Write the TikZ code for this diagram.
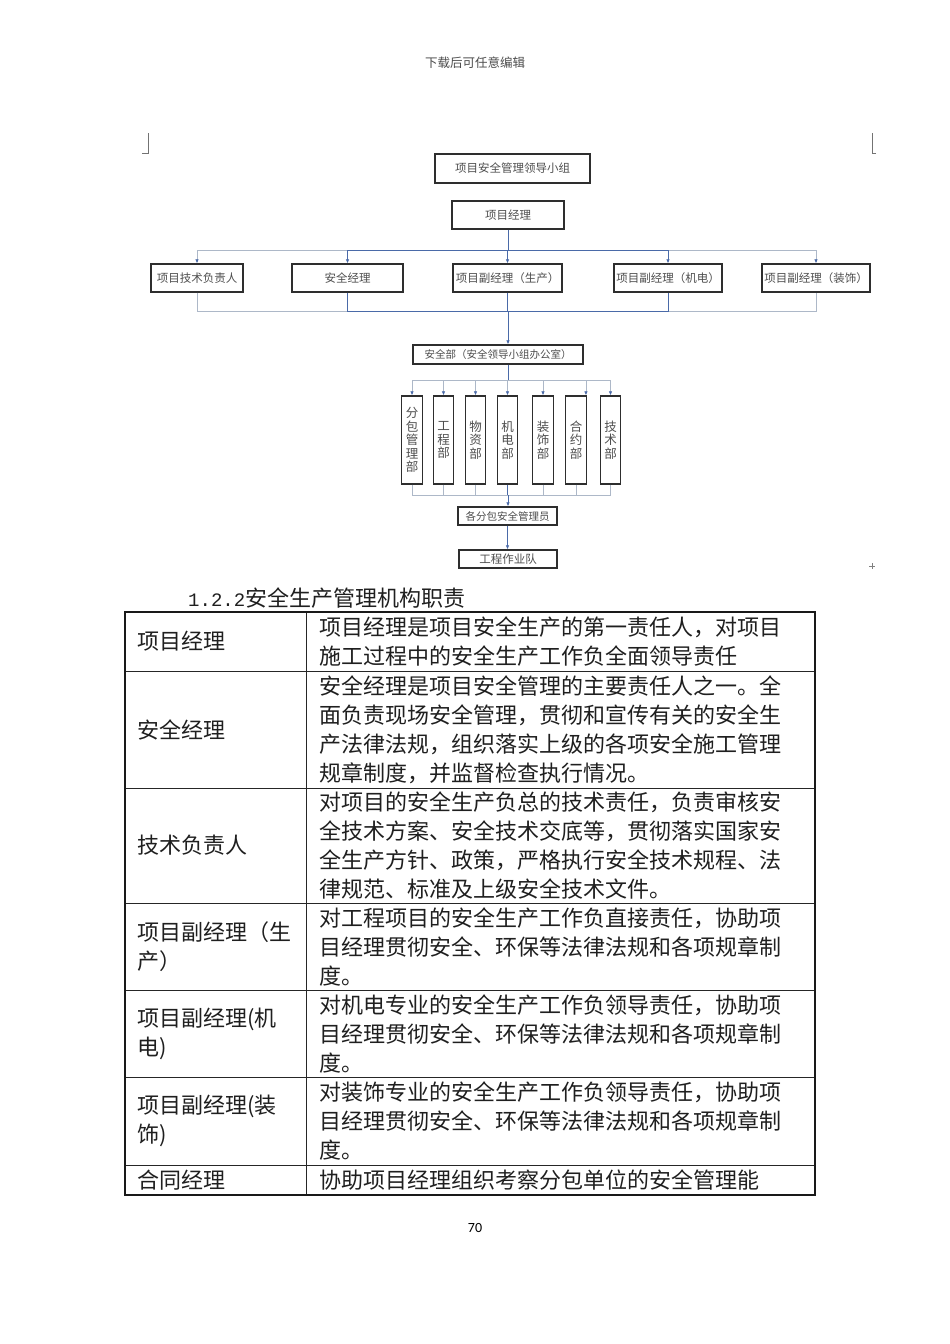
\documentclass[tikz,border=0pt]{standalone}
\usepackage{fontspec}
\setmainfont{Liberation Serif}
\newfontfamily\cjk{Noto Sans CJK SC}
\newfontfamily\monodigits{Liberation Mono}
\newfontfamily\pagefont{Carlito}
\usetikzlibrary{positioning}
\usetikzlibrary{arrows.meta}
\definecolor{linkblue}{HTML}{4A6AA8}
\definecolor{lightline}{HTML}{ADB8C8}
\definecolor{boxline}{HTML}{2E2E2E}
\definecolor{chartgray}{HTML}{4E4E4E}

\begin{document}
\begin{tikzpicture}[x=1pt, y=-1pt,
    >={Latex[length=4pt,width=3.6pt,color=linkblue]},
    orgbox/.style={draw=boxline, line width=1.4pt, fill=white, inner sep=0pt, text=chartgray, font=\cjk\fontsize{11.5}{13}\selectfont},
    deptbox/.style={orgbox, minimum width=20.5, minimum height=88, align=center, font=\cjk\fontsize{12.5}{13.5}\selectfont},
    blueline/.style={draw=linkblue, line width=0.9pt},
    grayline/.style={draw=lightline, line width=0.9pt},
    cell/.style={anchor=west, inner sep=0pt, align=left, text=black!88, font=\cjk\fontsize{22}{29}\selectfont},
    rule/.style={draw=black!85, line width=0.8pt},
    frame/.style={draw=black!90, line width=1.8pt}]
    \fill[white] (0,0) rectangle (950,1344);
    \useasboundingbox (0,0) rectangle (950,1344);

    \node[font=\cjk\fontsize{12.5}{14}\selectfont, text=black!70] (head) at (475,63) {下载后可任意编辑};
    \draw[black!55, line width=0.7pt] (142,153) -- (148,153) -- (148,133);
    \draw[black!55, line width=0.7pt] (876,153) -- (872,153) -- (872,133);
    \draw[black!50, line width=0.8pt] (869,566) -- (875,566) (872,563) -- (872,569);

    \node[orgbox, minimum width=155, minimum height=29] (group) at (512.5,168.5) {项目安全管理领导小组};
    \node[orgbox, minimum width=112, minimum height=28] (pm) at (508,215) {项目经理};
    \foreach \name/\x/\w/\txt in {tech/197/92/项目技术负责人, safe/347.5/111/安全经理, prod/507.5/109/项目副经理（生产）, mep/668/108/项目副经理（机电）, deco/816/108/项目副经理（装饰）}
        \node[orgbox, minimum width=\w, minimum height=28] (\name) at (\x,278) {\txt};
    \node[orgbox, minimum width=170, minimum height=19, font=\cjk\fontsize{10.5}{12}\selectfont] (dept) at (498,354.5) {安全部（安全领导小组办公室）};
    \foreach \name/\x/\txt in {sub/412/{分\\包\\管\\理\\部}, eng/443.5/{工\\程\\部}, mat/475.5/{物\\资\\部}, mep2/507.5/{机\\电\\部}, deco2/543/{装\\饰\\部}, cont/576/{合\\约\\部}, tec2/610.5/{技\\术\\部}}
        \node[deptbox] (\name) at (\x,440) {\txt};
    \node[orgbox, minimum width=99, minimum height=18, font=\cjk\fontsize{10.5}{12}\selectfont] (mgr) at (507.5,516) {各分包安全管理员};
    \node[orgbox, minimum width=98, minimum height=18] (team) at (508,559) {工程作业队};

    \coordinate (topbus) at (508,250);
    \coordinate (lowbus) at (508,311);
    \coordinate (depbus) at (508,380);
    \coordinate (botbus) at (508,495);
    \coordinate (contin) at ([xshift=-1pt]cont.north east);

    \draw[blueline] (pm.south) -- (topbus);
    \draw[grayline] (tech.north |- topbus) -- (deco.north |- topbus);
    \draw[grayline] (tech.south) -- (tech.south |- lowbus) -- (deco.south |- lowbus) -- (deco.south);
    \draw[blueline] (safe.north |- topbus) -- (mep.north |- topbus);
    \draw[blueline] (safe.south) -- (safe.south |- lowbus) -- (mep.south |- lowbus) -- (mep.south);
    \foreach \name in {tech,deco}
        \draw[grayline,->] (\name.north |- topbus) -- (\name.north);
    \foreach \name in {safe,prod,mep}
        \draw[blueline,->] (\name.north |- topbus) -- (\name.north);
    \draw[blueline] (prod.south) -- (prod.south |- lowbus);
    \draw[blueline,->] (lowbus) -- (lowbus |- dept.north);

    \draw[blueline] (dept.south -| depbus) -- (depbus);
    \draw[grayline] (sub.north |- depbus) -- (tec2.north |- depbus);
    \foreach \name in {sub,eng,mat,mep2,deco2,tec2}
        \draw[grayline,->] (\name.north |- depbus) -- (\name.north);
    \draw[grayline,->] (contin |- depbus) -- (contin);
    \foreach \name in {sub,eng,mat,deco2,cont,tec2}
        \draw[grayline] (\name.south) -- (\name.south |- botbus);
    \draw[grayline] (sub.south |- botbus) -- (tec2.south |- botbus);
    \draw[blueline] (mep2.south) -- (mep2.south |- botbus);
    \draw[blueline,->] (botbus) -- (botbus |- mgr.north);
    \draw[blueline,->] (mgr.south) -- (mgr.south |- team.north);

    \node[anchor=west, inner sep=0pt, text=black!88, font=\cjk\fontsize{22}{26}\selectfont] (title) at (188,598) {{\monodigits\fontsize{19}{26}\selectfont 1.2.2}安全生产管理机构职责};
    \foreach \y in {671,788,903,990,1077,1165}
        \draw[rule] (125,\y) -- (815,\y);
    \draw[rule] (306,612) -- (306,1195);
    \draw[frame] (125,612) rectangle (815,1195);

    \node[cell] (pmrole) at (137,641.5) {项目经理};
    \node[cell] (pmduty) at (319,641.5) {项目经理是项目安全生产的第一责任人，对项目\\施工过程中的安全生产工作负全面领导责任};
    \node[cell] (safrole) at (137,729.5) {安全经理};
    \node[cell] (safduty) at (319,729.5) {安全经理是项目安全管理的主要责任人之一。全\\面负责现场安全管理，贯彻和宣传有关的安全生\\产法律法规，组织落实上级的各项安全施工管理\\规章制度，并监督检查执行情况。};
    \node[cell] (tecrole) at (137,845.5) {技术负责人};
    \node[cell] (tecduty) at (319,845.5) {对项目的安全生产负总的技术责任，负责审核安\\全技术方案、安全技术交底等，贯彻落实国家安\\全生产方针、政策，严格执行安全技术规程、法\\律规范、标准及上级安全技术文件。};
    \node[cell] (prodrole) at (137,947) {项目副经理（生\\产）};
    \node[cell] (prodduty) at (319,947) {对工程项目的安全生产工作负直接责任，协助项\\目经理贯彻安全、环保等法律法规和各项规章制\\度。};
    \node[cell] (meprole) at (137,1034) {项目副经理(机\\电)};
    \node[cell] (mepduty) at (319,1034) {对机电专业的安全生产工作负领导责任，协助项\\目经理贯彻安全、环保等法律法规和各项规章制\\度。};
    \node[cell] (decorole) at (137,1121) {项目副经理(装\\饰)};
    \node[cell] (decoduty) at (319,1121) {对装饰专业的安全生产工作负领导责任，协助项\\目经理贯彻安全、环保等法律法规和各项规章制\\度。};
    \node[cell] (controle) at (137,1180) {合同经理};
    \node[cell] (contduty) at (319,1180) {协助项目经理组织考察分包单位的安全管理能};

    \node[font=\pagefont\fontsize{14}{16}\selectfont] (pageno) at (475,1228) {70};
\end{tikzpicture}
\end{document}
